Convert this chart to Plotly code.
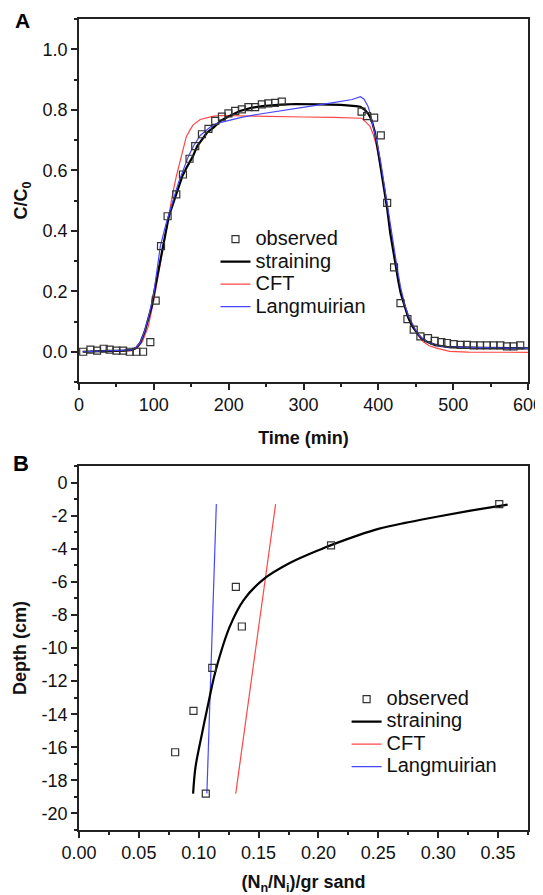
import plotly.graph_objects as go

# ---------------- Panel A data ----------------
obs_t = [5.6, 15.3, 24.2, 33, 41, 50, 58.9, 67.8, 76.7, 85.6, 95.3, 102.5, 109.6, 118.4, 130, 138.9,
         147.7, 155.3, 164.3, 173, 182, 191, 199.7, 208.7, 217.6, 226.4, 235.3, 244.3, 253, 262, 271,
         377.6, 385, 394.4, 403.3, 411.8, 421, 429.6, 438.9, 447.3, 456.2, 466.4, 475.3, 484.2, 491.8,
         500.7, 510, 518.4, 527.3, 536, 545, 554, 563, 571.8, 580.7, 589.6]
obs_c = [0.0, 0.007, 0.004, 0.01, 0.007, 0.004, 0.004, 0.0, 0.0, 0.0, 0.032, 0.169, 0.349, 0.448, 0.520, 0.586,
         0.638, 0.680, 0.719, 0.737, 0.763, 0.777, 0.788, 0.796, 0.801, 0.809, 0.809, 0.818, 0.821, 0.823, 0.827,
         0.794, 0.779, 0.774, 0.715, 0.492, 0.279, 0.161, 0.108, 0.073, 0.051, 0.045, 0.036, 0.032, 0.029,
         0.025, 0.023, 0.023, 0.021, 0.021, 0.021, 0.021, 0.021, 0.018, 0.018, 0.021]

str_t = [5, 20, 40, 60, 70, 76, 82, 88, 94, 97, 100, 106, 111, 116, 120, 125, 130, 138, 144, 152, 158, 166,
         171, 180, 189, 199, 215, 230, 245, 270, 290, 320, 350, 370, 376, 382, 387, 391, 395, 398, 402, 407,
         412, 416, 420, 423, 427, 430, 435, 440, 445, 449, 454, 458, 466, 476, 495, 540, 600]
str_c = [0.0, 0.002, 0.003, 0.004, 0.006, 0.012, 0.03, 0.068, 0.12, 0.149, 0.19, 0.27, 0.33, 0.40, 0.447, 0.485,
         0.52, 0.58, 0.61, 0.645, 0.68, 0.706, 0.724, 0.742, 0.763, 0.777, 0.796, 0.806, 0.812, 0.817, 0.819,
         0.818, 0.816, 0.812, 0.81, 0.80, 0.785, 0.766, 0.73, 0.689, 0.63, 0.546, 0.47, 0.391, 0.33, 0.281,
         0.23, 0.193, 0.15, 0.113, 0.085, 0.07, 0.055, 0.044, 0.032, 0.022, 0.015, 0.013, 0.011]

cft_t = [5, 40, 70, 78, 85, 92.5, 100, 106.4, 115.6, 120, 125, 130, 135, 143.4, 148.7, 152.6, 162, 171, 180,
         190, 220, 260, 300, 340, 370, 378, 383, 388.7, 393, 397.6, 403, 408.7, 413, 417.6, 422, 426.4, 431,
         435.3, 441, 446.4, 452, 459.7, 468, 477.6, 487, 495.3, 520, 560, 600]
cft_c = [0.0, 0.001, 0.004, 0.012, 0.035, 0.083, 0.17, 0.259, 0.391, 0.45, 0.52, 0.58, 0.628, 0.711, 0.735,
         0.75, 0.768, 0.774, 0.779, 0.781, 0.779, 0.778, 0.776, 0.775, 0.773, 0.772, 0.76, 0.746, 0.72, 0.68,
         0.61, 0.536, 0.46, 0.382, 0.31, 0.238, 0.19, 0.15, 0.11, 0.084, 0.058, 0.034, 0.02, 0.012, 0.005,
         0.001, -0.001, -0.002, -0.002]

lan_t = [5, 40, 70, 76, 82, 88, 94, 100, 108.7, 116, 126.4, 133, 139.7, 146, 153, 162, 166.4, 175, 184.3,
         199, 206.4, 217, 242, 273, 286, 310, 337.6, 365, 376, 381, 386.4, 390, 393, 398, 403, 408, 413,
         417, 421, 425, 430, 436, 441, 446, 451, 456, 462, 470, 480, 495, 540, 600]
lan_c = [0.0, 0.002, 0.006, 0.013, 0.03, 0.07, 0.125, 0.195, 0.349, 0.42, 0.503, 0.56, 0.603, 0.645, 0.68,
         0.715, 0.724, 0.742, 0.755, 0.765, 0.77, 0.775, 0.786, 0.797, 0.803, 0.812, 0.823, 0.834, 0.843,
         0.835, 0.81, 0.78, 0.746, 0.695, 0.63, 0.55, 0.47, 0.40, 0.34, 0.28, 0.21, 0.15, 0.115, 0.088,
         0.066, 0.05, 0.038, 0.028, 0.02, 0.015, 0.013, 0.011]

# ---------------- Panel B data ----------------
obs_b_x = [0.351, 0.2105, 0.131, 0.136, 0.1113, 0.0956, 0.0803, 0.1059]
obs_b_d = [-1.3, -3.8, -6.3, -8.7, -11.2, -13.8, -16.3, -18.8]

str_b_x = [0.0953, 0.0973, 0.1028, 0.1086, 0.1139, 0.1259, 0.1375, 0.154, 0.1764, 0.204, 0.2105,
           0.25, 0.275, 0.30, 0.327, 0.358]
str_b_d = [-18.8, -17.2, -15.15, -13.14, -11.43, -8.71, -7.1, -5.85, -4.85, -3.97, -3.78,
           -2.8, -2.4, -2.05, -1.7, -1.33]

cft_b_x = [0.1309, 0.1642]
cft_b_d = [-18.8, -1.3]

lan_b_x = [0.1068, 0.1147]
lan_b_d = [-18.8, -1.3]

b_ytickvals = [0, -2, -4, -6, -8, -10, -12, -14, -16, -18, -20]
b_yticktext = ["0", "-2", "-4", "-6", "-8", "-10", "-12", "-14", "-16", "-18", "-20"]

FONT = "Liberation Sans, Arial, sans-serif"
RED = "rgb(255,70,70)"
BLUE = "rgb(70,70,255)"
OBS_COLOR = "#333333"


def lbl(s):
    return "<span style='font-size:20px'>" + s + "</span>"


fig = go.Figure()

# Panel A
fig.add_trace(go.Scatter(x=cft_t, y=cft_c, mode="lines", name=lbl("CFT"), legendrank=3,
                         line=dict(color=RED, width=1.2), xaxis="x", yaxis="y", legend="legend"))
fig.add_trace(go.Scatter(x=str_t, y=str_c, mode="lines", name=lbl("straining"), legendrank=2,
                         line=dict(color="black", width=2.2), xaxis="x", yaxis="y", legend="legend"))
fig.add_trace(go.Scatter(x=lan_t, y=lan_c, mode="lines", name=lbl("Langmuirian"), legendrank=4,
                         line=dict(color=BLUE, width=1.2), xaxis="x", yaxis="y", legend="legend"))
fig.add_trace(go.Scatter(x=obs_t, y=obs_c, mode="markers", name=lbl("observed"), legendrank=1,
                         marker=dict(symbol="square-open", size=7, color=OBS_COLOR, line=dict(width=1.2)),
                         xaxis="x", yaxis="y", legend="legend"))

# Panel B
fig.add_trace(go.Scatter(x=cft_b_x, y=cft_b_d, mode="lines", name=lbl("CFT"), legendrank=3,
                         line=dict(color=RED, width=1.2), xaxis="x2", yaxis="y2", legend="legend2"))
fig.add_trace(go.Scatter(x=lan_b_x, y=lan_b_d, mode="lines", name=lbl("Langmuirian"), legendrank=4,
                         line=dict(color=BLUE, width=1.2), xaxis="x2", yaxis="y2", legend="legend2"))
fig.add_trace(go.Scatter(x=str_b_x, y=str_b_d, mode="lines", name=lbl("straining"), legendrank=2,
                         line=dict(color="black", width=2.2, shape="spline", smoothing=1.0),
                         xaxis="x2", yaxis="y2", legend="legend2"))
fig.add_trace(go.Scatter(x=obs_b_x, y=obs_b_d, mode="markers", name=lbl("observed"), legendrank=1,
                         marker=dict(symbol="square-open", size=7, color=OBS_COLOR, line=dict(width=1.2)),
                         xaxis="x2", yaxis="y2", legend="legend2"))

axis_common = dict(
    automargin=False,
    showline=True, mirror=True, linecolor="#222", linewidth=1.6,
    ticks="outside", ticklen=6, tickwidth=1.5, tickcolor="#222",
    showgrid=False, zeroline=False,
    tickfont=dict(family=FONT, size=18, color="#111"),
)
minor_common = dict(ticks="outside", ticklen=3.5, tickwidth=1.5, tickcolor="#222", showgrid=False)
title_font = dict(family=FONT, size=18, color="#111")

legend_common = dict(
    bgcolor="rgba(0,0,0,0)", borderwidth=0,
    font=dict(family=FONT, size=15, color="#111"),
    xanchor="left", yanchor="top", traceorder="normal",
)

# The page body adds an 8 px offset, so the margins compensate for it.
fig.update_layout(
    template="none",
    width=543, height=895,
    margin=dict(l=70.5, r=22.5, t=11, b=73, autoexpand=False),
    paper_bgcolor="white", plot_bgcolor="white",
    font=dict(family=FONT, color="#111"),
    showlegend=True,
    xaxis=dict(domain=[0, 1], anchor="y", range=[0, 600], tickmode="linear", tick0=0, dtick=100,
               ticklabeloverflow="allow",
               minor=dict(dtick=50, **minor_common),
               title=dict(text="<b>Time (min)</b>", font=title_font, standoff=17), **axis_common),
    yaxis=dict(domain=[0.5524, 1], anchor="x", range=[-0.1, 1.1], tickmode="linear", tick0=0, dtick=0.2,
               tickformat=".1f",
               minor=dict(dtick=0.1, **minor_common),
               title=dict(text="<b>C/C<sub>0</sub></b>", font=title_font, standoff=10), **axis_common),
    xaxis2=dict(domain=[0, 1], anchor="y2", range=[0, 0.375], tickmode="linear", tick0=0, dtick=0.05,
                tickformat=".2f", ticklabeloverflow="allow",
                minor=dict(dtick=0.025, **minor_common),
                title=dict(text="<b>(N<sub>n</sub>/N<sub>i</sub>)/gr sand</b>", font=title_font, standoff=13),
                **axis_common),
    yaxis2=dict(domain=[0, 0.4488], anchor="x2", range=[-21, 1], tickmode="array",
                tickvals=b_ytickvals, ticktext=b_yticktext,
                minor=dict(tickmode="linear", tick0=0, dtick=1, **minor_common),
                title=dict(text="<b>Depth (cm)</b>", font=title_font, standoff=10), **axis_common),
    legend=dict(x=0.304, y=0.7485, **legend_common),
    legend2=dict(x=0.596, y=0.1815, **legend_common),
    annotations=[
        dict(text="<b>A</b>", x=-0.1267, y=0.9978, xref="paper", yref="paper", showarrow=False,
             xanchor="center", yanchor="middle", font=dict(family=FONT, size=21, color="black")),
        dict(text="<b>B</b>", x=-0.1289, y=0.4519, xref="paper", yref="paper", showarrow=False,
             xanchor="center", yanchor="middle", font=dict(family=FONT, size=22, color="black")),
    ],
)

fig.write_html("out.html")
